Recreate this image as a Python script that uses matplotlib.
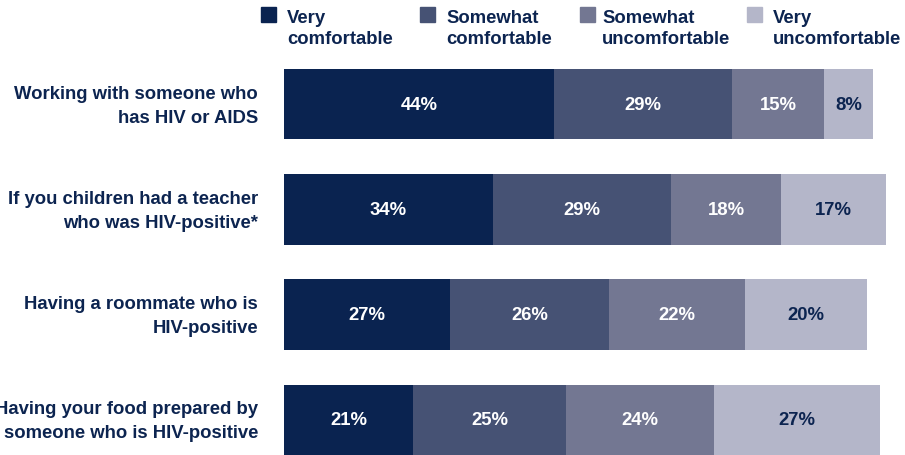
import matplotlib
matplotlib.use('Agg')
import matplotlib.pyplot as plt
from matplotlib.patches import Rectangle

# survey items, top to bottom
items = ['Working with someone who\nhas HIV or AIDS',
         'If you children had a teacher\nwho was HIV-positive*',
         'Having a roommate who is\nHIV-positive',
         'Having your food prepared by\nsomeone who is HIV-positive']

levels = ['Very\ncomfortable', 'Somewhat\ncomfortable',
          'Somewhat\nuncomfortable', 'Very\nuncomfortable']

very_comf = [44, 34, 27, 21]
some_comf = [29, 29, 26, 25]
some_uncomf = [15, 18, 22, 24]
very_uncomf = [8, 17, 20, 27]

colors = ['#0a2350', '#465274', '#737792', '#b4b6c9']
text_colors = ['white', 'white', 'white', '#0c2450']
navy = '#0c2450'

plt.rcParams['font.family'] = ['Liberation Sans', 'DejaVu Sans']
plt.rcParams['font.weight'] = 'bold'

W, H = 905, 456
fig = plt.figure(figsize=(W / 100, H / 100), dpi=100)
ax = fig.add_axes([284 / W, 0, (W - 284) / W, 386 / H])

series = [very_comf, some_comf, some_uncomf, very_uncomf]
rows = list(range(len(items)))
left = [0] * len(items)
for vals, col, tcol in zip(series, colors, text_colors):
    bars = ax.barh(rows, vals, left=left, height=0.67, color=col)
    for b, v in zip(bars, vals):
        ax.text(b.get_x() + b.get_width() / 2, b.get_y() + b.get_height() / 2,
                f'{v}%', ha='center', va='center', color=tcol,
                fontsize=13.3, fontweight='bold')
    left = [l + v for l, v in zip(left, vals)]

ax.set_xlim(0, 621 / 6.14)
ax.set_ylim(3.334, -0.335)
ax.axis('off')

# category labels to the left of the bars
for i, lab in enumerate(items):
    ax.annotate(lab, xy=(0, i), xycoords=ax.get_yaxis_transform(),
                xytext=(-26, -1), textcoords='offset pixels',
                ha='right', va='center', color=navy, fontsize=13.3,
                fontweight='bold', linespacing=1.55)

# legend across the top
sq_x = [261, 420, 580, 747]
txt_x = [287, 446, 602, 773]
for sx, tx, col, lab in zip(sq_x, txt_x, colors, levels):
    fig.patches.append(Rectangle((sx / W, 1 - 23 / H), 15 / W, 15 / H,
                                 transform=fig.transFigure, color=col))
    fig.text(tx / W, 1 - 10 / H, lab, ha='left', va='top', color=navy,
             fontsize=13.3, fontweight='bold', linespacing=1.3)

fig.savefig('out.png', dpi=100)
